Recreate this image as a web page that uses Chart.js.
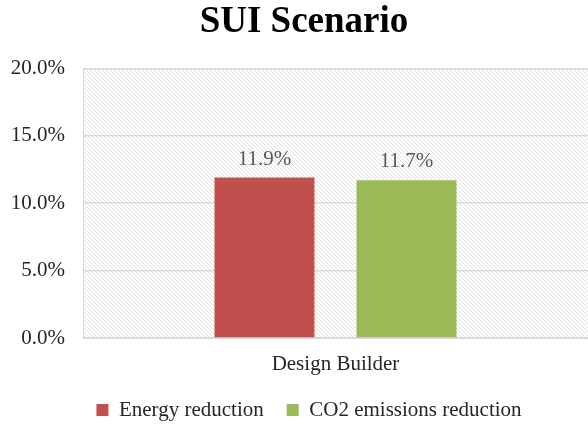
<!DOCTYPE html>
<html>
<head>
<meta charset="utf-8">
<script src="https://cdn.jsdelivr.net/npm/chart.js@4.4.0/dist/chart.umd.min.js"></script>
<style>
  html, body { margin: 0; padding: 0; background: #fff; }
  #wrap { width: 588px; height: 424px; }
</style>
</head>
<body>
<div id="wrap"><canvas id="chart"></canvas></div>
<script>
// Chart data
const categories = ['Design Builder'];
const energyReduction = [11.9];
const co2Reduction = [11.7];
const yTicks = [0, 5, 10, 15, 20];

const serif = '"Liberation Serif", "DejaVu Serif", serif';

// diagonal hatch for the plot area
function makeHatch() {
  const c = document.createElement('canvas');
  c.width = 4; c.height = 4;
  const g = c.getContext('2d');
  g.fillStyle = '#ffffff';
  g.fillRect(0, 0, 4, 4);
  g.strokeStyle = '#e0e0e0';
  g.lineWidth = 1;
  g.beginPath();
  g.moveTo(-1, -1); g.lineTo(5, 5);
  g.moveTo(-1, 3); g.lineTo(1, 5);
  g.moveTo(3, -1); g.lineTo(5, 1);
  g.stroke();
  return g.createPattern(c, 'repeat');
}

const plotBackground = {
  id: 'plotBackground',
  beforeDraw(chart) {
    const { ctx, chartArea: a } = chart;
    ctx.save();
    ctx.fillStyle = makeHatch();
    ctx.fillRect(a.left, a.top, a.right - a.left, a.bottom - a.top);
    ctx.strokeStyle = '#d9d9d9';
    ctx.lineWidth = 1;
    ctx.strokeRect(a.left + 0.5, a.top + 0.5, a.right - a.left, a.bottom - a.top);
    ctx.restore();
  }
};

const valueLabels = {
  id: 'valueLabels',
  afterDatasetsDraw(chart) {
    const ctx = chart.ctx;
    ctx.save();
    ctx.font = '21px ' + serif;
    ctx.fillStyle = '#595959';
    ctx.textAlign = 'center';
    ctx.textBaseline = 'bottom';
    chart.data.datasets.forEach((ds, i) => {
      chart.getDatasetMeta(i).data.forEach((bar, j) => {
        ctx.fillText(ds.data[j].toFixed(1) + '%', bar.x, bar.y - 8);
      });
    });
    ctx.restore();
  }
};

// title and legend in the original sit a bit right of centre
const nudge = {
  id: 'nudge',
  afterLayout(chart) {
    chart.legend.left += 15;
    chart.legend.right += 15;
    chart.titleBlock.left += 10;
    chart.titleBlock.right += 10;
  }
};

new Chart(document.getElementById('chart'), {
  type: 'bar',
  data: {
    labels: categories,
    datasets: [
      { label: 'Energy reduction', data: energyReduction, backgroundColor: '#c0504d' },
      { label: 'CO2 emissions reduction', data: co2Reduction, backgroundColor: '#9bbb59' }
    ]
  },
  options: {
    responsive: true,
    maintainAspectRatio: false,
    animation: false,
    categoryPercentage: 0.5625,
    barPercentage: 0.704,
    layout: { padding: { left: 0, right: 0, top: 0, bottom: -6.5 } },
    plugins: {
      title: {
        display: true,
        text: 'SUI Scenario',
        color: '#000',
        font: { family: serif, size: 37, weight: 'bold' },
        padding: { top: 0, bottom: 24 }
      },
      legend: {
        position: 'bottom',
        labels: {
          boxWidth: 12, boxHeight: 12, padding: 23,
          color: '#262626',
          font: { family: serif, size: 21 }
        }
      },
      tooltip: { enabled: false }
    },
    scales: {
      x: {
        afterFit(axis) { axis.height = 38.5; },
        grid: { display: false },
        border: { display: false },
        ticks: { color: '#262626', font: { family: serif, size: 21 }, padding: 6 }
      },
      y: {
        min: 0, max: 20,
        afterBuildTicks(axis) { axis.ticks = yTicks.map(v => ({ value: v })); },
        afterFit(axis) { axis.width = 83; },
        grid: { color: '#d9d9d9', lineWidth: 1.5, drawTicks: false },
        border: { display: false },
        ticks: {
          color: '#262626', padding: 18,
          font: { family: serif, size: 21 },
          callback: v => v.toFixed(1) + '%'
        }
      }
    }
  },
  plugins: [plotBackground, valueLabels, nudge]
});
</script>
</body>
</html>
